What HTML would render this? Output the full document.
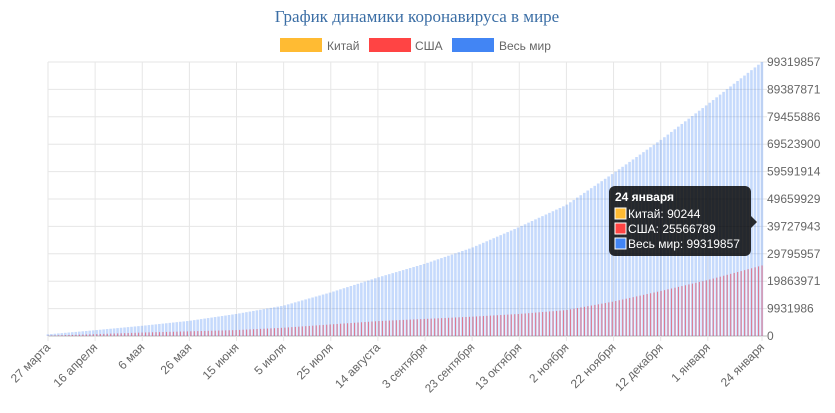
<!DOCTYPE html>
<html><head><meta charset="utf-8"><style>
html,body{margin:0;padding:0;background:#fff;width:835px;height:413px;overflow:hidden}
svg text{font-family:"Liberation Sans",sans-serif}
</style></head><body>
<svg id="s" width="835" height="413" xmlns="http://www.w3.org/2000/svg">
<text x="417" y="22" text-anchor="middle" style="font-family:'Liberation Serif',serif" font-size="17" fill="#3b6ea5">График динамики коронавируса в мире</text>
<rect x="280" y="38" width="42" height="14" fill="#ffbb33"/>
<text x="327" y="50" font-size="12" fill="#666">Китай</text>
<rect x="369" y="38" width="42" height="14" fill="#ff4444"/>
<text x="415" y="50" font-size="12" fill="#666">США</text>
<rect x="452" y="38" width="42" height="14" fill="#4285f4"/>
<text x="499" y="50" font-size="12" fill="#666">Весь мир</text>
<g id="grid"></g><g id="bars"></g><g id="lbl"></g>
<g>
<rect x="609" y="186" width="142" height="70" rx="6" fill="rgba(0,0,0,0.82)"/>
<polygon points="751,216 757,222 751,228" fill="rgba(0,0,0,0.82)"/>
<text x="615" y="201" font-size="12" font-weight="bold" fill="#fff">24 января</text>
<rect x="615" y="208" width="11" height="11" fill="#ffbb33" stroke="#fff" stroke-width="1"/>
<text x="628" y="218" font-size="12" fill="#fff">Китай: 90244</text>
<rect x="615" y="223" width="11" height="11" fill="#ff4444" stroke="#fff" stroke-width="1"/>
<text x="628" y="233" font-size="12" fill="#fff">США: 25566789</text>
<rect x="615" y="238" width="11" height="11" fill="#4285f4" stroke="#fff" stroke-width="1"/>
<text x="628" y="248" font-size="12" fill="#fff">Весь мир: 99319857</text>
</g>
</svg>
<script>
var NS="http://www.w3.org/2000/svg";
function el(p,t,a,txt){var e=document.createElementNS(NS,t);for(var k in a)e.setAttribute(k,a[k]);if(txt)e.textContent=txt;document.getElementById(p).appendChild(e);}
var L=48,R=762,T=62,B=336,MAX=99319857;
var pd=(R-L)/303;
var yl=["99319857","89387871","79455886","69523900","59591914","49659929","39727943","29795957","19863971","9931986","0"];
for(var i=0;i<=10;i++){var y=T+(B-T)*i/10;el("grid","line",{x1:L,x2:R+5,y1:y,y2:y,stroke:i==10?"#bbb":"#e6e6e6","stroke-width":1});
el("lbl","text",{x:767,y:y+4,"font-size":12,fill:"#666"},yl[i]);}
var xl=["27 марта","16 апреля","6 мая","26 мая","15 июня","5 июля","25 июля","14 августа","3 сентября","23 сентября","13 октября","2 ноября","22 ноября","12 декабря","1 января","24 января"];
var tl={8:58,9:64,10:60,11:50,12:58,13:62};
for(var i=0;i<16;i++){var d=i<15?i*20:303;var x=L+d*pd;
el("grid","line",{x1:x,x2:x,y1:T,y2:B+5,stroke:"#e6e6e6","stroke-width":1});
var a={x:x+3,y:B+12,"font-size":12,fill:"#666","text-anchor":"end",transform:"rotate(-45 "+(x+3)+" "+(B+12)+")"};
if(tl[i]){a.textLength=tl[i];a.lengthAdjust="spacingAndGlyphs";}
el("lbl","text",a,xl[i]);}
var wk=[[0,0.6],[20,2.1],[40,3.7],[60,5.5],[80,8.0],[100,11.0],[120,15.8],[140,21.2],[160,26.2],[180,32.0],[200,39.5],[220,47.5],[240,59.0],[260,71.0],[280,84.0],[303,99.32]];
var uk=[[0,0.1],[20,0.67],[40,1.25],[60,1.7],[80,2.15],[100,3.0],[120,4.2],[140,5.4],[160,6.2],[180,7.0],[200,8.0],[220,9.4],[240,12.5],[260,16.3],[280,20.3],[303,25.57]];
function itp(k,d){for(var i=0;i<k.length-1;i++){if(d<=k[i+1][0]){var f=(d-k[i][0])/(k[i+1][0]-k[i][0]);return k[i][1]+f*(k[i+1][1]-k[i][1]);}}return k[k.length-1][1];}
var h=(B-T),NB=206;
for(var j=0;j<NB;j++){var d=303*j/(NB-1);var x=L+d*pd-1.4;
var w=itp(wk,d)*1e6/MAX*h,u=itp(uk,d)*1e6/MAX*h;
el("bars","rect",{x:x,y:B-w,width:2.6,height:w,fill:"rgba(66,133,244,0.3)"});
el("bars","rect",{x:x+0.9,y:B-u,width:1.1,height:u,fill:"rgba(230,90,110,0.75)"});}
</script>
</body></html>
